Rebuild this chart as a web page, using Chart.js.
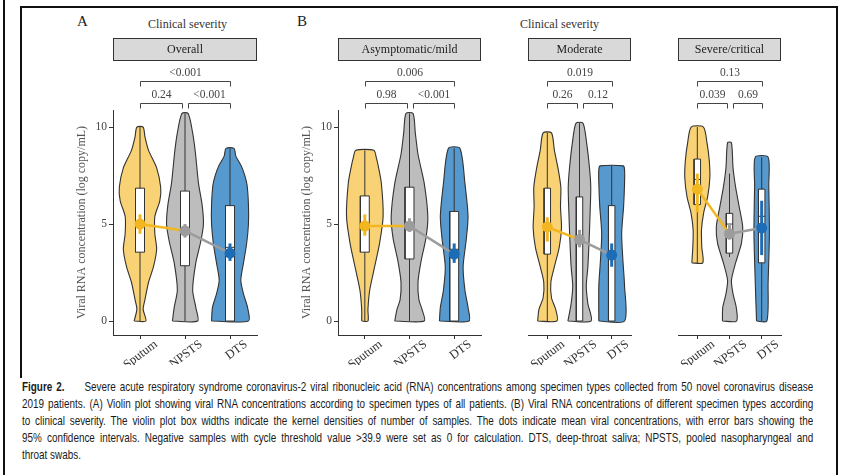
<!DOCTYPE html>
<html>
<head>
<meta charset="utf-8">
<script src="https://cdn.jsdelivr.net/npm/chart.js@4.4.0/dist/chart.umd.min.js"></script>
<style>
  body { margin: 0; background: #fff; width: 843px; height: 475px; overflow: hidden; position: relative; font-family: "Liberation Serif", serif; }
  .facet { position: absolute; top: 0; height: 375px; }
  .line { position: absolute; background: #111; }
  .lbl { position: absolute; color: #333; white-space: nowrap; }
  #caption { position: absolute; left: 22px; top: 379px; width: 989px; transform: scaleX(0.8); transform-origin: 0 0;
    font-family: "Liberation Sans", Arial, sans-serif; font-size: 12.4px; line-height: 17px; color: #1a1a1a; }
  #caption div { text-align: justify; text-align-last: justify; height: 17px; overflow: hidden; }
  #caption div.last { text-align-last: left; }
</style>
</head>
<body>
<div class="line" style="left:3px;top:0;width:2px;height:475px"></div>
<div class="line" style="left:20px;top:6px;width:818px;height:2px"></div>
<div class="line" style="left:20px;top:6px;width:2px;height:372px"></div>
<div class="line" style="left:836px;top:6px;width:2px;height:469px"></div>

<div class="lbl" style="left:77px;top:13px;font-size:15px;color:#222">A</div>
<div class="lbl" style="left:297px;top:13px;font-size:15px;color:#222">B</div>
<div class="lbl" style="left:148px;top:17px;font-size:12px">Clinical severity</div>
<div class="lbl" style="left:520px;top:17px;font-size:12px">Clinical severity</div>

<div class="facet" style="left:40px;width:230px"><canvas id="f0" width="230" height="375"></canvas></div>
<div class="facet" style="left:265px;width:225px"><canvas id="f1" width="225" height="375"></canvas></div>
<div class="facet" style="left:455px;width:185px"><canvas id="f2" width="185" height="375"></canvas></div>
<div class="facet" style="left:605px;width:190px"><canvas id="f3" width="190" height="375"></canvas></div>

<div id="caption">
  <div><b>Figure 2.</b>&nbsp;&nbsp;&nbsp;&nbsp; Severe acute respiratory syndrome coronavirus-2 viral ribonucleic acid (RNA) concentrations among specimen types collected from 50 novel coronavirus disease</div>
  <div>2019 patients. (A) Violin plot showing viral RNA concentrations according to specimen types of all patients. (B) Viral RNA concentrations of different specimen types according</div>
  <div>to clinical severity. The violin plot box widths indicate the kernel densities of number of samples. The dots indicate mean viral concentrations, with error bars showing the</div>
  <div>95% confidence intervals. Negative samples with cycle threshold value &gt;39.9 were set as 0 for calculation. DTS, deep-throat saliva; NPSTS, pooled nasopharyngeal and</div>
  <div class="last">throat swabs.</div>
</div>

<script>
// categories and facets
const categories = ['Sputum', 'NPSTS', 'DTS'];
const facetNames = ['Overall', 'Asymptomatic/mild', 'Moderate', 'Severe/critical'];
const yTicks = [0, 5, 10];
const yTitle = 'Viral RNA concentration (log copy/mL)';

// p values: Sputum vs NPSTS, NPSTS vs DTS, Sputum vs DTS (one per facet)
const pSputumNpsts = ['0.24', '0.98', '0.26', '0.039'];
const pNpstsDts = ['<0.001', '<0.001', '0.12', '0.69'];
const pSputumDts = ['<0.001', '0.006', '0.019', '0.13'];

// violin outlines, [value, half width] bottom to top, one per facet
const violinSputum = [
  [[0, 0.13], [0.6, 0.07], [1.1, 0.11], [2.0, 0.19], [2.8, 0.30], [3.7, 0.37], [4.5, 0.33], [5.4, 0.33], [6.2, 0.44], [6.9, 0.46], [7.9, 0.37], [8.8, 0.19], [9.5, 0.11], [10, 0.07]],
  [[0, 0.07], [0.6, 0.07], [1.6, 0.11], [2.8, 0.22], [4.0, 0.33], [5.4, 0.41], [7.1, 0.37], [8.0, 0.30], [8.4, 0.26], [8.8, 0.20]],
  [[0, 0.30], [0.6, 0.26], [1.2, 0.13], [2.0, 0.11], [2.8, 0.22], [3.8, 0.37], [4.8, 0.44], [5.9, 0.41], [6.9, 0.42], [7.9, 0.33], [8.8, 0.22], [9.7, 0.13]],
  [[3.0, 0.17], [3.8, 0.14], [4.7, 0.13], [5.6, 0.20], [6.4, 0.32], [7.4, 0.39], [8.3, 0.37], [9.2, 0.30], [10.0, 0.19]]
];
const violinNpsts = [
  [[0, 0.28], [0.7, 0.24], [1.6, 0.17], [3.0, 0.24], [4.1, 0.35], [5.0, 0.41], [6.0, 0.38], [7.1, 0.30], [8.7, 0.23], [9.7, 0.17], [10.7, 0.07]],
  [[0, 0.33], [0.6, 0.28], [1.1, 0.21], [2.0, 0.19], [3.1, 0.26], [4.3, 0.37], [5.4, 0.41], [7.1, 0.33], [8.6, 0.19], [9.7, 0.13], [10.7, 0.08]],
  [[0, 0.36], [0.9, 0.26], [1.8, 0.21], [2.8, 0.26], [4.2, 0.30], [5.6, 0.33], [6.9, 0.35], [7.9, 0.31], [9.2, 0.22], [10.2, 0.11]],
  [[0, 0.22], [0.7, 0.21], [1.4, 0.11], [2.1, 0.06], [3.0, 0.19], [4.0, 0.37], [4.85, 0.41], [5.9, 0.30], [6.9, 0.19], [7.9, 0.11], [9.2, 0.06]]
];
const violinDts = [
  [[0, 0.41], [0.7, 0.39], [1.4, 0.30], [2.1, 0.24], [3.0, 0.30], [4.0, 0.37], [5.0, 0.41], [6.0, 0.41], [7.0, 0.38], [7.5, 0.33], [8.0, 0.25], [8.5, 0.13], [8.9, 0.09]],
  [[0, 0.33], [0.7, 0.31], [1.6, 0.24], [2.8, 0.20], [4.2, 0.27], [5.4, 0.31], [7.1, 0.24], [8.9, 0.13]],
  [[0, 0.40], [1.8, 0.40], [3.1, 0.35], [4.5, 0.31], [5.9, 0.37], [7.1, 0.40], [7.8, 0.40], [8.0, 0.36]],
  [[0, 0.16], [2.0, 0.20], [4.5, 0.24], [7.0, 0.22], [8.45, 0.20]]
];

// box stats [q1, median, q3, whisker low, whisker high]
const boxSputum = [[3.55, 5.1, 6.85, 0, 10], [3.55, 5.0, 6.45, 0, 8.8], [3.45, 4.9, 6.85, 0, 9.7], [6.0, 7.3, 8.35, 3.0, 10]];
const boxNpsts = [[2.85, 4.8, 6.7, 0, 10.7], [3.2, 5.0, 6.9, 0, 10.7], [0, 4.3, 6.4, 0, 10.2], [3.5, 5.0, 5.55, 3.3, 7.6]];
const boxDts = [[0, 3.8, 5.95, 0, 8.9], [0, 3.7, 5.65, 0, 8.9], [0, 3.5, 5.95, 0, 8.0], [3.0, 5.4, 6.8, 0, 8.45]];

// means with 95% CI
const meanSputum = [5.0, 4.9, 4.85, 6.8];
const meanNpsts = [4.65, 4.9, 4.2, 4.5];
const meanDts = [3.5, 3.45, 3.4, 4.8];
const ciSputum = [[4.5, 5.5], [4.4, 5.5], [4.1, 5.35], [5.6, 7.6]];
const ciNpsts = [[4.3, 5.0], [4.6, 5.3], [3.8, 4.7], [4.2, 5.0]];
const ciDts = [[3.1, 4.0], [3.0, 4.0], [2.8, 4.0], [3.4, 6.2]];

const violinFill = ['#f8d274', '#bdbdbd', '#5599cf'];
const dotColor = ['#f2b720', '#9c9c9c', '#1c6cb6'];
const serif = '"Liberation Serif", serif';
const boxHalf = 0.1;

// facet layout: canvas padding so the plot areas line up
const layoutPad = [
  { left: 33, right: 13 },
  { left: 33, right: 9 },
  { left: 33, right: 9 },
  { left: 33, right: 14 }
];

// strips, comparison brackets
const facetDeco = {
  id: 'facetDeco',
  afterDraw(chart, args, opts) {
    const { ctx, chartArea: a } = chart;
    const x = chart.scales.x;
    ctx.save();
    ctx.fillStyle = '#d9d9d9';
    ctx.fillRect(a.left, a.top - 72, a.right - a.left, 23);
    ctx.strokeStyle = '#333';
    ctx.lineWidth = 1;
    ctx.strokeRect(Math.round(a.left) + 0.5, a.top - 71.5, Math.round(a.right - a.left) - 1, 22);
    ctx.fillStyle = '#222';
    ctx.font = '12px ' + serif;
    ctx.textAlign = 'center';
    ctx.textBaseline = 'middle';
    ctx.fillText(opts.strip, (a.left + a.right) / 2, a.top - 60);

    const px = categories.map((c, i) => Math.round(x.getPixelForValue(i + 1)) + 0.5);
    ctx.strokeStyle = '#444';
    ctx.fillStyle = '#444';
    ctx.font = '11.5px ' + serif;
    const bracket = (x1, x2, y, label) => {
      ctx.beginPath();
      ctx.moveTo(x1, y + 5);
      ctx.lineTo(x1, y);
      ctx.lineTo(x2, y);
      ctx.lineTo(x2, y + 5);
      ctx.stroke();
      ctx.fillText(label, (x1 + x2) / 2, y - 9);
    };
    bracket(px[0], px[1] - 3, a.top - 6.5, opts.p12);
    bracket(px[1] + 3, px[2], a.top - 6.5, opts.p23);
    bracket(px[0], px[2], a.top - 28.5, opts.p13);
    ctx.restore();
  }
};

function makeFacet(fi) {
  const showY = fi === 0 || fi === 1;
  const violins = [violinSputum[fi], violinNpsts[fi], violinDts[fi]];
  const boxes = [boxSputum[fi], boxNpsts[fi], boxDts[fi]];
  const means = [meanSputum[fi], meanNpsts[fi], meanDts[fi]];
  const cis = [ciSputum[fi], ciNpsts[fi], ciDts[fi]];
  const datasets = [];

  categories.forEach((cat, g) => {
    const cx = g + 1;
    const left = violins[g].map(([v, w]) => ({ x: cx - w, y: v }));
    const right = violins[g].slice().reverse().map(([v, w]) => ({ x: cx + w, y: v }));
    const pts = left.concat(right);
    pts.push(pts[0]);
    datasets.push({ data: pts, fill: 'shape', backgroundColor: violinFill[g], borderColor: '#333',
      borderWidth: 1.1, tension: 0.25, order: 6 });

    const [q1, med, q3, lo, hi] = boxes[g];
    datasets.push({ data: [{ x: cx, y: lo }, { x: cx, y: hi }], borderColor: '#333', borderWidth: 1, order: 5 });
    datasets.push({ data: [{ x: cx - boxHalf, y: q1 }, { x: cx + boxHalf, y: q1 }, { x: cx + boxHalf, y: q3 },
      { x: cx - boxHalf, y: q3 }, { x: cx - boxHalf, y: q1 }], fill: 'shape', backgroundColor: '#fff',
      borderColor: '#333', borderWidth: 1, order: 4 });
    datasets.push({ data: [{ x: cx - boxHalf, y: med }, { x: cx + boxHalf, y: med }], borderColor: '#333', borderWidth: 1, order: 3 });
    datasets.push({ data: [{ x: cx, y: cis[g][0] }, { x: cx, y: cis[g][1] }], borderColor: dotColor[g], borderWidth: 3, order: 1 });
  });

  datasets.push({ data: means.map((m, i) => ({ x: i + 1, y: m })), borderWidth: 2.5,
    segment: { borderColor: c => dotColor[c.p0DataIndex] }, order: 2 });
  datasets.push({ data: means.map((m, i) => ({ x: i + 1, y: m })), showLine: false, pointRadius: 5.5,
    pointBackgroundColor: dotColor, pointBorderWidth: 0, order: 0 });

  return new Chart(document.getElementById('f' + fi), {
    type: 'line',
    data: { datasets },
    options: {
      responsive: false,
      animation: false,
      events: [],
      layout: { padding: { top: 110, bottom: 10, left: layoutPad[fi].left, right: layoutPad[fi].right } },
      elements: { point: { radius: 0 }, line: { fill: false } },
      plugins: {
        legend: { display: false },
        tooltip: { enabled: false },
        facetDeco: { strip: facetNames[fi], p12: pSputumNpsts[fi], p23: pNpstsDts[fi], p13: pSputumDts[fi] }
      },
      scales: {
        x: {
          type: 'linear', min: 0.4, max: 3.6,
          afterBuildTicks: s => { s.ticks = categories.map((c, i) => ({ value: i + 1 })); },
          afterFit: s => { s.height = 30; },
          ticks: { callback: (v, i) => categories[i], minRotation: 37, maxRotation: 37, labelOffset: 16, padding: -2,
            font: { family: serif, size: 12.5 }, color: '#333' },
          grid: { drawOnChartArea: false, drawTicks: true, tickLength: 4, color: '#333' },
          border: { display: true, color: '#333', width: 1 }
        },
        y: {
          type: 'linear', min: -0.72, max: 10.88, display: showY,
          afterBuildTicks: s => { s.ticks = yTicks.map(v => ({ value: v })); },
          afterFit: s => { s.width = 40; },
          ticks: { padding: 2, font: { family: serif, size: 11.5 }, color: '#444' },
          grid: { drawOnChartArea: false, drawTicks: true, tickLength: 4, color: '#333' },
          border: { display: true, color: '#333', width: 1 },
          title: { display: true, text: yTitle, color: '#555', font: { family: serif, size: 12 }, padding: { top: 2, bottom: 0 } }
        }
      }
    },
    plugins: [facetDeco]
  });
}

facetNames.forEach((f, i) => makeFacet(i));
</script>
</body>
</html>
